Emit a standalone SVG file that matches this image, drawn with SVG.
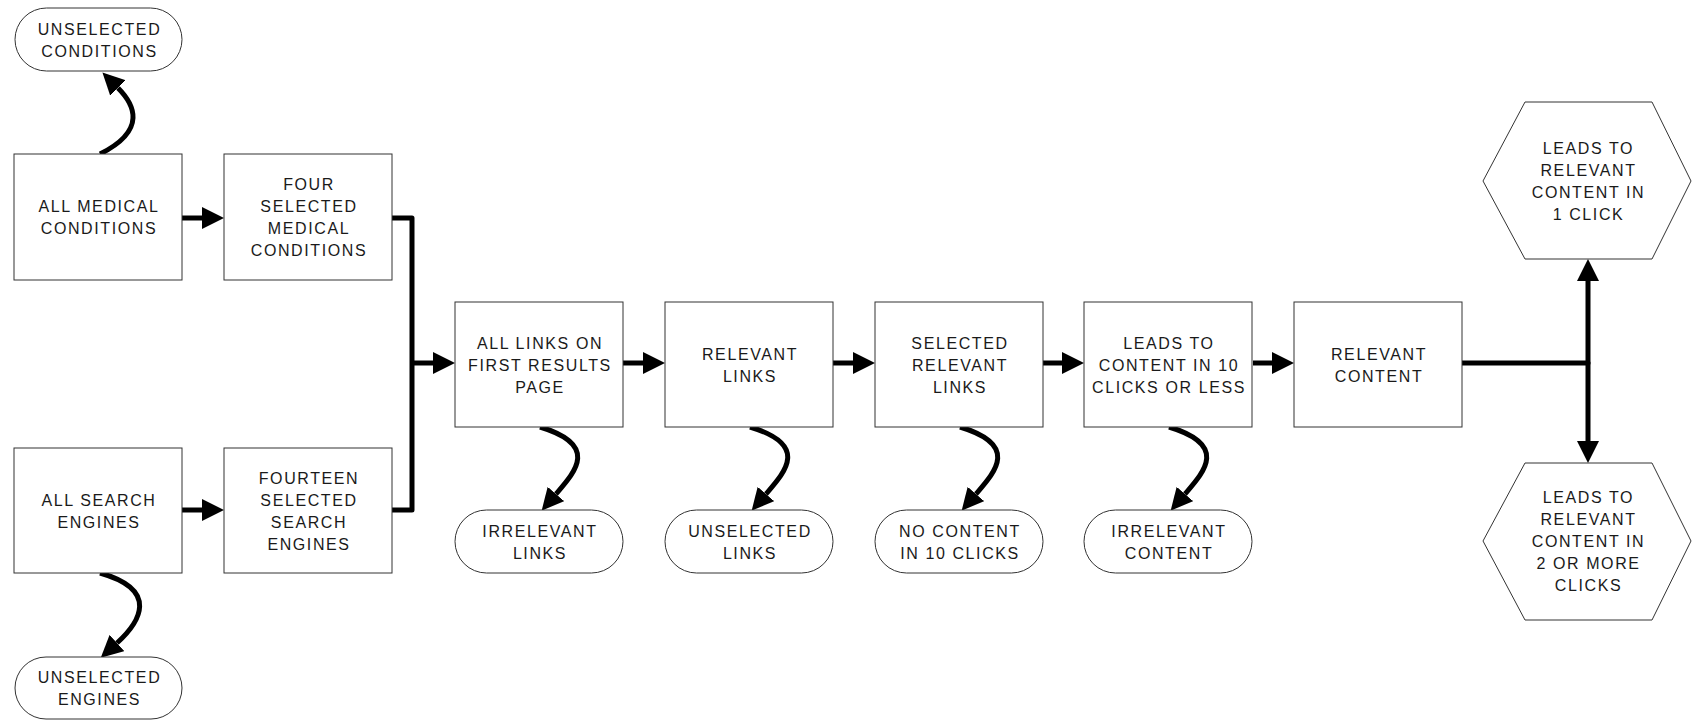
<svg xmlns="http://www.w3.org/2000/svg" width="1692" height="720" viewBox="0 0 1692 720">
<style>
.box{fill:#fff;stroke:#333;stroke-width:1}
.t{font-family:"Liberation Sans",Arial,sans-serif;font-size:16px;letter-spacing:1.6px;fill:#1a1a1a;text-anchor:middle}
.c{fill:none;stroke:#000;stroke-width:5}
</style>
<defs>
<marker id="ah" markerUnits="userSpaceOnUse" markerWidth="22" markerHeight="22" refX="0" refY="11" orient="auto" viewBox="0 0 22 22">
<path d="M0,0 L22,11 L0,22 z" fill="#000"/>
</marker>
</defs>
<rect width="1692" height="720" fill="#fff"/>
<g id="connectors">
<path class="c" d="M182,218 H202" marker-end="url(#ah)"/>
<path class="c" d="M182,510 H202" marker-end="url(#ah)"/>
<path class="c" d="M392,218 H412 V510 H392" stroke-linecap="round" stroke-linejoin="round"/>
<path class="c" d="M412,363 H433" marker-end="url(#ah)"/>
<path class="c" d="M623,363 H643" marker-end="url(#ah)"/>
<path class="c" d="M833,363 H853" marker-end="url(#ah)"/>
<path class="c" d="M1043,363 H1062" marker-end="url(#ah)"/>
<path class="c" d="M1253,363 H1272" marker-end="url(#ah)"/>
<path class="c" d="M1462,363 H1588" stroke-linecap="round"/>
<path class="c" d="M1588,363 V281" marker-end="url(#ah)"/>
<path class="c" d="M1588,363 V441" marker-end="url(#ah)"/>
<path class="c" d="M100,154 C148,130 134,104 118,88" marker-end="url(#ah)"/>
<path class="c" d="M100,573 C160,590 140,622 117,643" marker-end="url(#ah)"/>
<path class="c" d="M540,427 C600,445 575,472 556,494" marker-end="url(#ah)"/>
<path class="c" d="M750,427 C810,445 785,472 766,494" marker-end="url(#ah)"/>
<path class="c" d="M960,427 C1020,445 995,472 976,494" marker-end="url(#ah)"/>
<path class="c" d="M1169,427 C1229,445 1204,472 1185,494" marker-end="url(#ah)"/>
</g>
<g id="unselected-conditions">
<rect class="box" x="15" y="8" width="167" height="63" rx="31.5"/>
<text class="t" x="99.5" y="34.5">UNSELECTED</text>
<text class="t" x="99.5" y="56.5">CONDITIONS</text>
</g>
<g id="all-medical-conditions">
<rect class="box" x="14" y="154" width="168" height="126"/>
<text class="t" x="99" y="212">ALL MEDICAL</text>
<text class="t" x="99" y="234">CONDITIONS</text>
</g>
<g id="four-selected">
<rect class="box" x="224" y="154" width="168" height="126"/>
<text class="t" x="309" y="190">FOUR</text>
<text class="t" x="309" y="212">SELECTED</text>
<text class="t" x="309" y="234">MEDICAL</text>
<text class="t" x="309" y="256">CONDITIONS</text>
</g>
<g id="all-search-engines">
<rect class="box" x="14" y="448" width="168" height="125"/>
<text class="t" x="99" y="505.5">ALL SEARCH</text>
<text class="t" x="99" y="527.5">ENGINES</text>
</g>
<g id="fourteen-selected">
<rect class="box" x="224" y="448" width="168" height="125"/>
<text class="t" x="309" y="483.5">FOURTEEN</text>
<text class="t" x="309" y="505.5">SELECTED</text>
<text class="t" x="309" y="527.5">SEARCH</text>
<text class="t" x="309" y="549.5">ENGINES</text>
</g>
<g id="unselected-engines">
<rect class="box" x="15" y="657" width="167" height="62" rx="31"/>
<text class="t" x="99.5" y="683">UNSELECTED</text>
<text class="t" x="99.5" y="705">ENGINES</text>
</g>
<g id="all-links">
<rect class="box" x="455" y="302" width="168" height="125"/>
<text class="t" x="540" y="348.5">ALL LINKS ON</text>
<text class="t" x="540" y="370.5">FIRST RESULTS</text>
<text class="t" x="540" y="392.5">PAGE</text>
</g>
<g id="relevant-links">
<rect class="box" x="665" y="302" width="168" height="125"/>
<text class="t" x="750" y="359.5">RELEVANT</text>
<text class="t" x="750" y="381.5">LINKS</text>
</g>
<g id="selected-relevant-links">
<rect class="box" x="875" y="302" width="168" height="125"/>
<text class="t" x="960" y="348.5">SELECTED</text>
<text class="t" x="960" y="370.5">RELEVANT</text>
<text class="t" x="960" y="392.5">LINKS</text>
</g>
<g id="leads-10-clicks">
<rect class="box" x="1084" y="302" width="168" height="125"/>
<text class="t" x="1169" y="348.5">LEADS TO</text>
<text class="t" x="1169" y="370.5">CONTENT IN 10</text>
<text class="t" x="1169" y="392.5">CLICKS OR LESS</text>
</g>
<g id="relevant-content">
<rect class="box" x="1294" y="302" width="168" height="125"/>
<text class="t" x="1379" y="359.5">RELEVANT</text>
<text class="t" x="1379" y="381.5">CONTENT</text>
</g>
<g id="irrelevant-links">
<rect class="box" x="455" y="510" width="168" height="63" rx="31.5"/>
<text class="t" x="540" y="536.5">IRRELEVANT</text>
<text class="t" x="540" y="558.5">LINKS</text>
</g>
<g id="unselected-links">
<rect class="box" x="665" y="510" width="168" height="63" rx="31.5"/>
<text class="t" x="750" y="536.5">UNSELECTED</text>
<text class="t" x="750" y="558.5">LINKS</text>
</g>
<g id="no-content">
<rect class="box" x="875" y="510" width="168" height="63" rx="31.5"/>
<text class="t" x="960" y="536.5">NO CONTENT</text>
<text class="t" x="960" y="558.5">IN 10 CLICKS</text>
</g>
<g id="irrelevant-content">
<rect class="box" x="1084" y="510" width="168" height="63" rx="31.5"/>
<text class="t" x="1169" y="536.5">IRRELEVANT</text>
<text class="t" x="1169" y="558.5">CONTENT</text>
</g>
<g id="leads-1-click">
<polygon class="box" points="1483,181 1525,102 1652,102 1691,181 1652,259 1525,259"/>
<text class="t" x="1588.5" y="153.5">LEADS TO</text>
<text class="t" x="1588.5" y="175.5">RELEVANT</text>
<text class="t" x="1588.5" y="197.5">CONTENT IN</text>
<text class="t" x="1588.5" y="219.5">1 CLICK</text>
</g>
<g id="leads-2-more">
<polygon class="box" points="1483,541 1525,463 1652,463 1691,541 1652,620 1525,620"/>
<text class="t" x="1588.5" y="503">LEADS TO</text>
<text class="t" x="1588.5" y="525">RELEVANT</text>
<text class="t" x="1588.5" y="547">CONTENT IN</text>
<text class="t" x="1588.5" y="569">2 OR MORE</text>
<text class="t" x="1588.5" y="591">CLICKS</text>
</g>
</svg>
